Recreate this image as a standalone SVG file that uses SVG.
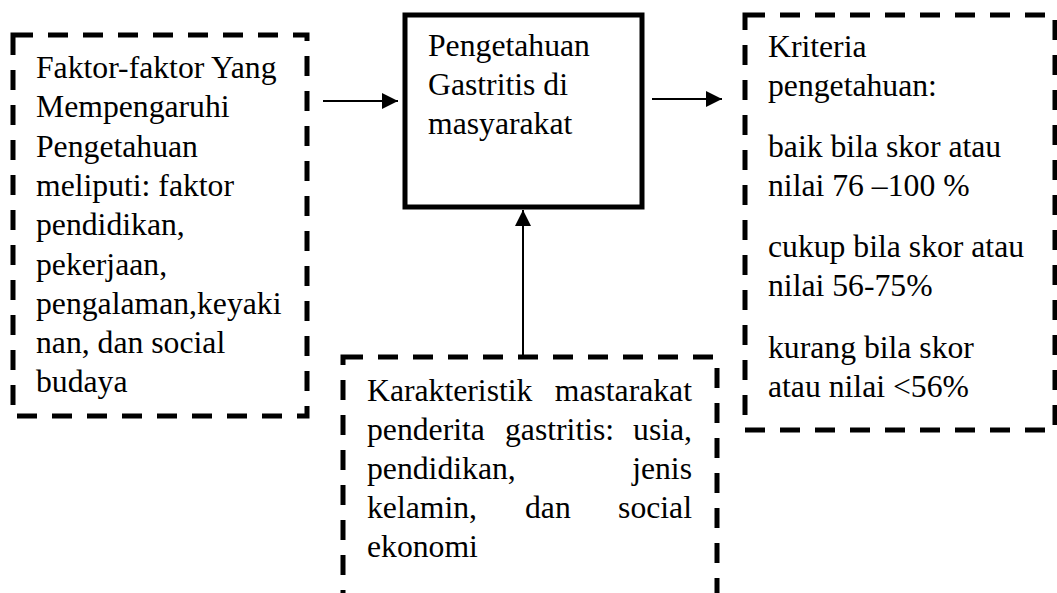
<svg xmlns="http://www.w3.org/2000/svg" width="1057" height="593" viewBox="0 0 1057 593">
<style>
  .dash { fill: none; stroke: #000; stroke-width: 5; stroke-dasharray: 20 15; }
  .solid { fill: #fff; stroke: #000; stroke-width: 5; }
  .t { font-size: 31.7px; fill: #000; }
  .conn { stroke: #000; stroke-width: 2; fill: none; }
</style>
<defs>
  <marker id="arr" viewBox="0 0 16 16" refX="16" refY="8" markerWidth="16" markerHeight="16" markerUnits="userSpaceOnUse" orient="auto">
    <path d="M0,0 L16,8 L0,16 Z" fill="#000"/>
  </marker>
</defs>
<rect width="1057" height="593" fill="#fff"/>

<g id="faktor" font-family="'Liberation Serif', 'Times New Roman', serif">
  <rect class="dash" x="13" y="35" width="294" height="381"/>
  <text class="t">
    <tspan x="36" y="78">Faktor-faktor Yang</tspan>
    <tspan x="36" y="117.3">Mempengaruhi</tspan>
    <tspan x="36" y="156.6">Pengetahuan</tspan>
    <tspan x="36" y="195.9">meliputi: faktor</tspan>
    <tspan x="36" y="235.2">pendidikan,</tspan>
    <tspan x="36" y="274.5">pekerjaan,</tspan>
    <tspan x="36" y="313.8">pengalaman,keyaki</tspan>
    <tspan x="36" y="353.1">nan, dan social</tspan>
    <tspan x="36" y="392.4">budaya</tspan>
  </text>
</g>

<g id="pengetahuan" font-family="'Liberation Serif', 'Times New Roman', serif">
  <rect class="solid" x="405" y="15" width="237" height="192"/>
  <text class="t">
    <tspan x="428" y="56">Pengetahuan</tspan>
    <tspan x="428" y="95">Gastritis di</tspan>
    <tspan x="428" y="134">masyarakat</tspan>
  </text>
</g>

<g id="kriteria" font-family="'Liberation Serif', 'Times New Roman', serif">
  <rect class="dash" x="745" y="15" width="310" height="415"/>
  <text class="t">
    <tspan x="768" y="57">Kriteria</tspan>
    <tspan x="768" y="96">pengetahuan:</tspan>
    <tspan x="768" y="157">baik bila skor atau</tspan>
    <tspan x="768" y="196">nilai 76 –100 %</tspan>
    <tspan x="768" y="257">cukup bila skor atau</tspan>
    <tspan x="768" y="296">nilai 56-75%</tspan>
    <tspan x="768" y="358">kurang bila skor</tspan>
    <tspan x="768" y="397">atau nilai &lt;56%</tspan>
  </text>
</g>

<g id="karakteristik" font-family="'Liberation Serif', 'Times New Roman', serif">
  <rect class="dash" x="343" y="357" width="374" height="260"/>
  <text class="t">
    <tspan x="367" y="401">Karakteristik</tspan>
    <tspan x="692" y="401" text-anchor="end">mastarakat</tspan>
  </text>
  <text class="t">
    <tspan x="367" y="440">penderita</tspan>
    <tspan x="505" y="440">gastritis:</tspan>
  </text>
  <text class="t" x="692" y="440" text-anchor="end">usia,</text>
  <text class="t" x="367" y="479">pendidikan,</text>
  <text class="t" x="692" y="479" text-anchor="end">jenis</text>
  <text class="t">
    <tspan x="367" y="518">kelamin,</tspan>
    <tspan x="525" y="518">dan</tspan>
  </text>
  <text class="t" x="692" y="518" text-anchor="end">social</text>
  <text class="t" x="367" y="557">ekonomi</text>
</g>

<g id="connectors">
  <line class="conn" x1="323" y1="101" x2="398" y2="101" marker-end="url(#arr)"/>
  <line class="conn" x1="652" y1="99" x2="722" y2="99" marker-end="url(#arr)"/>
  <line class="conn" x1="523" y1="356" x2="523" y2="210" marker-end="url(#arr)"/>
</g>
</svg>
